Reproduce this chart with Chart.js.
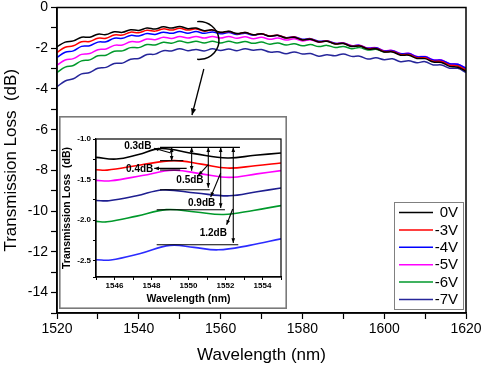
<!DOCTYPE html>
<html><head><meta charset="utf-8">
<script src="https://cdn.jsdelivr.net/npm/chart.js@4/dist/chart.umd.min.js"></script>
<style>
html,body{margin:0;padding:0;background:#fff;}
#wrap{position:relative;width:484px;height:367px;overflow:hidden;}
#main{position:absolute;left:0;top:0;}
#inset{position:absolute;left:59px;top:116px;}
</style></head><body>
<div id="wrap"><canvas id="main" width="484" height="367"></canvas><canvas id="inset" width="228" height="193"></canvas></div>
<script>
const FONT = "'Liberation Sans', Arial, Helvetica, sans-serif";

// ---------- main chart data ----------
const wavelengths = [1520,1522,1524,1526,1528,1530,1532,1534,1536,1538,1540,1542,1544,1546,1548,1550,1552,1554,1556,1558,1560,1562,1564,1566,1568,1570,1572,1574,1576,1578,1580,1582,1584,1586,1588,1590,1592,1594,1596,1598,1600,1602,1604,1606,1608,1610,1612,1614,1616,1618,1620];
const loss0V = [-1.93,-1.70,-1.64,-1.46,-1.46,-1.31,-1.33,-1.19,-1.22,-1.09,-1.13,-1.01,-1.06,-0.95,-1.01,-0.93,-1.04,-1.01,-1.14,-1.10,-1.22,-1.17,-1.28,-1.23,-1.34,-1.29,-1.41,-1.37,-1.50,-1.46,-1.59,-1.56,-1.69,-1.66,-1.79,-1.77,-1.91,-1.89,-2.04,-2.03,-2.18,-2.18,-2.34,-2.34,-2.50,-2.51,-2.68,-2.70,-2.89,-2.93,-3.14];
const lossM3V = [-2.21,-1.95,-1.88,-1.68,-1.67,-1.51,-1.51,-1.35,-1.35,-1.21,-1.24,-1.12,-1.16,-1.05,-1.11,-1.02,-1.11,-1.05,-1.16,-1.11,-1.23,-1.18,-1.29,-1.23,-1.34,-1.29,-1.40,-1.36,-1.49,-1.45,-1.58,-1.55,-1.68,-1.65,-1.78,-1.76,-1.90,-1.88,-2.02,-2.01,-2.16,-2.16,-2.31,-2.31,-2.47,-2.47,-2.64,-2.65,-2.83,-2.87,-3.08];
const lossM4V = [-2.45,-2.20,-2.13,-1.91,-1.88,-1.70,-1.68,-1.51,-1.51,-1.37,-1.40,-1.28,-1.32,-1.21,-1.27,-1.18,-1.26,-1.18,-1.27,-1.20,-1.29,-1.23,-1.32,-1.26,-1.36,-1.30,-1.41,-1.36,-1.48,-1.44,-1.56,-1.53,-1.66,-1.63,-1.76,-1.74,-1.88,-1.86,-2.00,-1.98,-2.13,-2.12,-2.27,-2.26,-2.42,-2.42,-2.58,-2.59,-2.76,-2.79,-2.99];
const lossM5V = [-2.83,-2.58,-2.51,-2.30,-2.26,-2.07,-2.04,-1.86,-1.84,-1.68,-1.69,-1.55,-1.58,-1.46,-1.52,-1.43,-1.50,-1.42,-1.50,-1.42,-1.50,-1.42,-1.51,-1.44,-1.53,-1.46,-1.56,-1.50,-1.60,-1.54,-1.64,-1.59,-1.70,-1.65,-1.77,-1.74,-1.87,-1.85,-1.99,-1.97,-2.12,-2.11,-2.26,-2.25,-2.41,-2.41,-2.57,-2.58,-2.76,-2.79,-2.99];
const lossM6V = [-3.19,-2.93,-2.85,-2.62,-2.57,-2.37,-2.34,-2.15,-2.13,-1.97,-1.97,-1.82,-1.84,-1.71,-1.75,-1.65,-1.73,-1.66,-1.74,-1.66,-1.74,-1.66,-1.74,-1.67,-1.76,-1.70,-1.80,-1.74,-1.84,-1.78,-1.88,-1.82,-1.92,-1.86,-1.96,-1.91,-2.02,-1.97,-2.09,-2.05,-2.18,-2.15,-2.29,-2.28,-2.44,-2.44,-2.61,-2.62,-2.81,-2.85,-3.06];
const lossM7V = [-3.89,-3.61,-3.50,-3.26,-3.19,-2.98,-2.94,-2.75,-2.73,-2.54,-2.50,-2.31,-2.29,-2.12,-2.13,-2.02,-2.12,-2.06,-2.13,-2.03,-2.11,-2.04,-2.12,-2.02,-2.10,-2.06,-2.19,-2.17,-2.27,-2.18,-2.28,-2.26,-2.39,-2.32,-2.37,-2.28,-2.40,-2.39,-2.53,-2.47,-2.56,-2.52,-2.66,-2.62,-2.71,-2.66,-2.82,-2.82,-2.98,-2.99,-3.19];
const seriesLabels = ['0V','-3V','-4V','-5V','-6V','-7V'];
const seriesValues = [loss0V, lossM3V, lossM4V, lossM5V, lossM6V, lossM7V];
const seriesColors = ['#000000','#ff0000','#0000ff','#ff00ff','#00992b','#26269a'];

// ---------- inset data (wavelength, loss) key points ----------
const inset0V  = [[1545,-1.226],[1546.1,-1.247],[1547.3,-1.19],[1548.5,-1.118],[1550.3,-1.18],[1552.1,-1.234],[1553.6,-1.20],[1555,-1.173]];
const insetM3V = [[1545,-1.378],[1545.6,-1.383],[1547.4,-1.32],[1549.2,-1.267],[1550.7,-1.31],[1552.1,-1.358],[1553.6,-1.33],[1555,-1.296]];
const insetM5V = [[1545,-1.51],[1545.8,-1.515],[1547.5,-1.45],[1549.2,-1.385],[1550.7,-1.43],[1552.2,-1.473],[1553.7,-1.43],[1555,-1.39]];
const insetM4V = [[1545,-1.757],[1545.7,-1.76],[1547.2,-1.70],[1548.6,-1.628],[1550.4,-1.665],[1552.2,-1.70],[1553.7,-1.65],[1555,-1.604]];
const insetM6V = [[1545,-2.015],[1545.6,-2.02],[1547.2,-1.95],[1548.8,-1.87],[1550.4,-1.90],[1551.9,-1.93],[1553.5,-1.88],[1555,-1.82]];
const insetM7V = [[1545,-2.488],[1545.8,-2.49],[1547.4,-2.41],[1549,-2.31],[1550.3,-2.335],[1551.6,-2.365],[1553.3,-2.31],[1555,-2.23]];
const insetSeries = [inset0V, insetM3V, insetM5V, insetM4V, insetM6V, insetM7V];
const insetColors = ['#000000','#ff0000','#ff00ff','#1e1e90','#00992b','#2b2bff'];

// ---------- helpers ----------
function arrowHead(ctx, fx, fy, tx, ty, size){
  const a = Math.atan2(ty-fy, tx-fx);
  ctx.beginPath();
  ctx.moveTo(tx, ty);
  ctx.lineTo(tx - size*Math.cos(a-0.38), ty - size*Math.sin(a-0.38));
  ctx.lineTo(tx - size*Math.cos(a+0.38), ty - size*Math.sin(a+0.38));
  ctx.closePath();
  ctx.fill();
}

const framePlugin = {
  id:'frame',
  beforeDraw(chart){
    const c = chart.ctx; c.save(); c.fillStyle='#fff'; c.fillRect(0,0,chart.width,chart.height); c.restore();
  },
  afterDraw(chart, args, opts){
    const c = chart.ctx, a = chart.chartArea;
    c.save(); c.strokeStyle='#000'; c.lineWidth=opts.lw||1.5;
    c.strokeRect(a.left, a.top, a.right-a.left, a.bottom-a.top);
    if (opts.outer){
      c.strokeStyle='#7a7a7a'; c.lineWidth=1.6;
      c.strokeRect(0.8,0.8,chart.width-1.6,chart.height-1.6);
    }
    c.restore();
  }
};

const legendPlugin = {
  id:'boxLegend',
  afterDatasetsDraw(chart){
    if (chart.canvas.id!=='main') return;
    const c = chart.ctx, a = chart.chartArea;
    const x0 = a.right-72, x1 = a.right-3, y0 = 202, y1 = a.bottom-4;
    c.save();
    c.fillStyle='#fff'; c.fillRect(x0,y0,x1-x0,y1-y0);
    c.strokeStyle='#808080'; c.lineWidth=1; c.strokeRect(x0+0.5,y0+0.5,x1-x0,y1-y0);
    c.font = '15px '+FONT; c.textAlign='right'; c.textBaseline='middle'; c.fillStyle='#000';
    chart.data.datasets.forEach((d,i)=>{
      const y = 212.5 + 17.4*i;
      c.strokeStyle=d.borderColor; c.lineWidth=1.5;
      c.beginPath(); c.moveTo(x0+5,y); c.lineTo(x0+39,y); c.stroke();
      c.fillText(d.label, x1-5, y+0.5);
    });
    c.restore();
  }
};

const mainAnnot = {
  id:'mainAnnot',
  afterDatasetsDraw(chart){
    if (chart.canvas.id!=='main') return;
    const c = chart.ctx, xs = chart.scales.x, ys = chart.scales.y;
    c.save(); c.strokeStyle='#000'; c.fillStyle='#000'; c.lineWidth=1.5;
    const cx = xs.getPixelForValue(1554.7), cy = ys.getPixelForValue(-1.62);
    const rx = xs.getPixelForValue(1554.7+4.9)-cx, ry = ys.getPixelForValue(-1.62-0.93)-cy;
    c.beginPath(); c.ellipse(cx, cy, rx, ry, 0, -95*Math.PI/180, 95*Math.PI/180); c.stroke();
    const fx = xs.getPixelForValue(1555.9), fy = ys.getPixelForValue(-3.02);
    const tx = xs.getPixelForValue(1553.0), ty = ys.getPixelForValue(-5.28);
    c.lineWidth=1.3; c.beginPath(); c.moveTo(fx,fy); c.lineTo(tx,ty); c.stroke();
    arrowHead(c, fx, fy, tx, ty, 7);
    c.restore();
  }
};

const insetAnnot = {
  id:'insetAnnot',
  afterDatasetsDraw(chart){
    if (chart.canvas.id!=='inset') return;
    const c = chart.ctx, xs = chart.scales.x, ys = chart.scales.y;
    const X = v=>xs.getPixelForValue(v), Y = v=>ys.getPixelForValue(v);
    c.save(); c.strokeStyle='#000'; c.fillStyle='#000'; c.lineWidth=1.1;
    const hLines = [[1548.46,1552.78,-1.103],[1548.46,1549.72,-1.267],[1548.46,1549.55,-1.382],[1548.46,1551.15,-1.625],[1548.28,1551.97,-1.871],[1548.28,1552.69,-2.303]];
    hLines.forEach(h=>{ c.beginPath(); c.moveTo(X(h[0]),Y(h[2])); c.lineTo(X(h[1]),Y(h[2])); c.stroke(); });
    const vArrows = [[1549.09,-1.103,-1.267],[1550.17,-1.103,-1.39],[1551.07,-1.103,-1.60],[1551.74,-1.103,-1.85],[1552.42,-1.103,-2.28]];
    vArrows.forEach(v=>{
      const x=X(v[0]), y1=Y(v[1]), y2=Y(v[2]);
      c.beginPath(); c.moveTo(x,y1); c.lineTo(x,y2); c.stroke();
      arrowHead(c,x,y2,x,y1,5); arrowHead(c,x,y1,x,y2,5);
    });
    const pointers = [[1549.05,-1.173,1548.14,-1.115],[1549.9,-1.362,1548.15,-1.362],[1551.07,-1.316,1550.53,-1.448],[1551.74,-1.419,1551.2,-1.715],[1552.39,-1.863,1552.06,-2.056]];
    pointers.forEach(p=>{
      const fx=X(p[0]), fy=Y(p[1]), tx=X(p[2]), ty=Y(p[3]);
      c.beginPath(); c.moveTo(fx,fy); c.lineTo(tx,ty); c.stroke();
      arrowHead(c,fx,fy,tx,ty,5);
    });
    const labels = [['0.3dB',1547.26,-1.09],['0.4dB',1547.36,-1.378],['0.5dB',1550.08,-1.514],['0.9dB',1550.71,-1.789],['1.2dB',1551.34,-2.159]];
    c.font = 'bold 10px '+FONT; c.textAlign='center'; c.textBaseline='middle';
    labels.forEach(l=>{ c.fillText(l[0], X(l[1]), Y(l[2])); });
    c.restore();
  }
};

Chart.register(framePlugin, legendPlugin, mainAnnot, insetAnnot);

new Chart(document.getElementById('main'), {
  type:'line',
  data:{
    labels: wavelengths,
    datasets: seriesValues.map((vals,i)=>({
      label: seriesLabels[i],
      data: vals.map((v,j)=>({x:wavelengths[j], y:v})),
      borderColor: seriesColors[i], backgroundColor: seriesColors[i],
      borderWidth:1.5, pointRadius:0, tension:0.4, fill:false
    }))
  },
  options:{
    responsive:false, animation:false,
    layout:{padding:{top:7.5, right:18, left:0, bottom:0}},
    plugins:{legend:{display:false}, tooltip:{enabled:false}, frame:{lw:1.5}},
    scales:{
      x:{type:'linear', min:1520, max:1620,
        ticks:{stepSize:10, autoSkip:false, maxRotation:0, color:'#000', font:{family:FONT,size:14}, padding:2,
          callback:v=> (Math.round(v)%20===0 ? String(Math.round(v)) : '')},
        grid:{drawOnChartArea:false, drawTicks:true, tickLength:6, tickColor:'#000', tickWidth:1.2},
        border:{color:'#000', width:1.5},
        title:{display:true, text:'Wavelength (nm)', color:'#000', font:{family:FONT,size:17}, padding:{top:0,bottom:1}},
        afterFit:s=>{s.height=54; s.paddingLeft=0; s.paddingRight=0;}
      },
      y:{type:'linear', min:-15, max:0,
        ticks:{stepSize:1, autoSkip:false, color:'#000', font:{family:FONT,size:14}, padding:3,
          callback:v=> (Math.round(v)%2===0 ? String(Math.round(v)) : '')},
        grid:{drawOnChartArea:false, drawTicks:true, tickLength:6, tickColor:'#000', tickWidth:1.2},
        border:{color:'#000', width:1.5},
        title:{display:true, text:'Transmission Loss  (dB)', color:'#000', font:{family:FONT,size:17}, padding:{top:1,bottom:0}},
        afterFit:s=>{s.width=57; s.paddingTop=0; s.paddingBottom=0;}
      }
    }
  }
});

new Chart(document.getElementById('inset'), {
  type:'line',
  data:{
    datasets: insetSeries.map((pts,i)=>({
      data: pts.map(p=>({x:p[0], y:p[1]})),
      borderColor: insetColors[i], borderWidth:1.6, pointRadius:0, tension:0.4, fill:false
    }))
  },
  options:{
    responsive:false, animation:false,
    layout:{padding:{top:23, right:6, left:0, bottom:0}},
    plugins:{legend:{display:false}, tooltip:{enabled:false}, frame:{lw:1.2, outer:true}},
    scales:{
      x:{type:'linear', min:1545, max:1555,
        ticks:{stepSize:1, autoSkip:false, maxRotation:0, color:'#000', font:{family:FONT,size:8,weight:'bold'}, padding:1,
          callback:v=> (Math.round(v)%2===0 ? String(Math.round(v)) : '')},
        grid:{drawOnChartArea:false, drawTicks:true, tickLength:3, tickColor:'#000', tickWidth:1},
        border:{color:'#000', width:1.2},
        title:{display:true, text:'Wavelength (nm)', color:'#000', font:{family:FONT,size:10.5,weight:'bold'}, padding:{top:0,bottom:4}},
        afterFit:s=>{s.height=32;}
      },
      y:{type:'linear', min:-2.7, max:-1.0,
        ticks:{stepSize:0.25, autoSkip:false, color:'#000', font:{family:FONT,size:8,weight:'bold'}, padding:2,
          callback:v=> (Math.abs(v*2-Math.round(v*2))<1e-6 ? v.toFixed(1) : '')},
        grid:{drawOnChartArea:false, drawTicks:true, tickLength:3, tickColor:'#000', tickWidth:1},
        border:{color:'#000', width:1.2},
        title:{display:true, text:'Transmission Loss  (dB)', color:'#000', font:{family:FONT,size:10.5,weight:'bold'}, padding:{top:1.5,bottom:0}},
        afterFit:s=>{s.width=37;}
      }
    }
  }
});
</script>
</body></html>
